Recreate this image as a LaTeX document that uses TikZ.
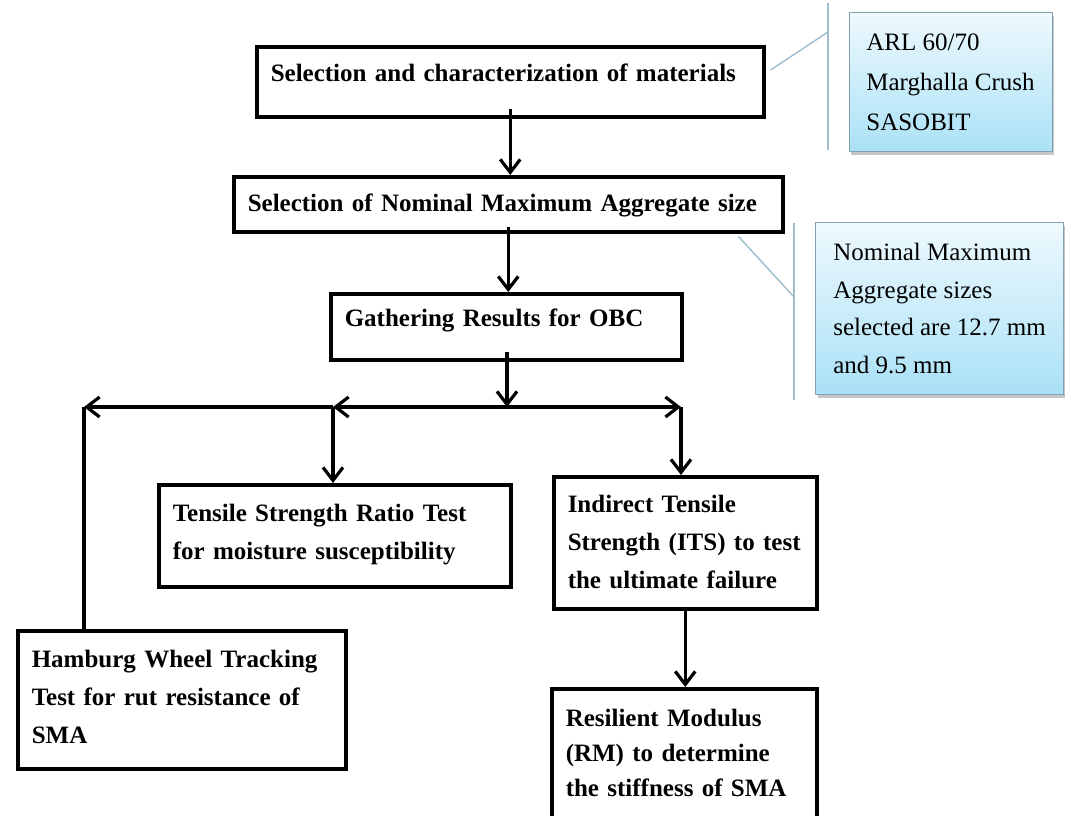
\documentclass[tikz,border=0pt]{standalone}
\usepackage{xcolor}
\usepackage{fontspec}
\setmainfont{Liberation Serif}
\usepackage{tikz}
\usetikzlibrary{positioning, arrows.meta, shadows, calc}

\definecolor{calltop}{RGB}{238,249,254}
\definecolor{callbot}{RGB}{170,225,246}
\definecolor{callrule}{RGB}{130,162,178}
\definecolor{barline}{RGB}{160,188,204}

\begin{document}
\begin{tikzpicture}[
    x=1pt, y=-1pt,
    stepbox/.style={draw, line width=3.5pt, inner ysep=0pt, inner xsep=14pt, align=left, anchor=north west, font=\fontsize{25}{38}\selectfont\bfseries},
    callbox/.style={draw=callrule, line width=1pt, top color=calltop, bottom color=callbot, align=left, drop shadow={shadow xshift=2pt, shadow yshift=-3pt, opacity=0.45}},
    arr/.style={line width=3.2pt, -{Straight Barb[length=13pt, width=20pt]}},
    link/.style={line width=3.2pt},
    bar/.style={draw=barline, line width=1.4pt}
]
\useasboundingbox (0,0) rectangle (1065,815);

% --- main steps ---
\node[stepbox, text width=479pt, text height=35pt, text depth=35pt] (sel) at (255,45) {Selection and characterization of materials};
\node[stepbox, text width=521pt, text height=35pt, text depth=20pt] (nmas) at (232,175) {Selection of Nominal Maximum Aggregate size};
\node[stepbox, text width=323pt, text height=33pt, text depth=33pt] (obc) at (329,292) {Gathering Results for OBC};

% --- tests ---
\node[stepbox, text width=324pt, text height=37pt, text depth=65pt] (tsr) at (157,483) {Tensile Strength Ratio Test\\for moisture susceptibility};
\node[stepbox, text width=235pt, text height=36pt, text depth=96pt] (its) at (552,475) {Indirect Tensile\\Strength (ITS) to test\\the ultimate failure};
\node[stepbox, text width=300pt, text height=37pt, text depth=101pt] (hwt) at (16,629) {Hamburg Wheel Tracking\\Test for rut resistance of\\SMA};
\node[stepbox, text width=237pt, text height=38pt, text depth=100pt, font=\fontsize{25}{35}\selectfont\bfseries] (rm) at (550,687) {Resilient Modulus\\(RM) to determine\\the stiffness of SMA};

% --- callouts ---
\node[callbox, minimum width=203pt, minimum height=139pt, font=\fontsize{25}{40}\selectfont] (matlist) at (950.5,82) {ARL 60/70\\Marghalla Crush\\SASOBIT};
\node[callbox, minimum width=248pt, minimum height=172pt, font=\fontsize{25}{37.5}\selectfont] (sizelist) at (939.5,308.5) {Nominal Maximum\\Aggregate sizes\\selected are 12.7 mm\\and 9.5 mm};

\coordinate (matbar-top) at (828,3);
\coordinate (matbar-bot) at (828,150);
\coordinate (matbar-hook) at (828,32);
\coordinate (sizebar-top) at (794,223);
\coordinate (sizebar-bot) at (794,400);
\coordinate (sizebar-hook) at (794,297);
\draw[bar] (matbar-top) -- (matbar-bot);
\draw[bar] ($(sel.north east)+(5,25)$) -- (matbar-hook);
\draw[bar] (sizebar-top) -- (sizebar-bot);
\draw[bar] ($(nmas.south east)+(-46,3)$) -- (sizebar-hook);

% --- flow ---
\coordinate (jmid) at (507,407);
\coordinate (jleft) at (84,407);
\coordinate (jtsr) at (333,407);
\coordinate (jits) at (681,407);

\draw[arr] ($(sel.south)+(0,-10)$) -- (sel.south |- nmas.north);
\draw[arr] ($(nmas.south)+(0,-7)$) -- (nmas.south |- obc.north);
\draw[arr] ($(jmid |- obc.south)+(0,-10)$) -- (jmid);
\draw[arr] (jmid) -- (jtsr);
\draw[arr] (jtsr) -- (jleft);
\draw[arr] (jmid) -- (jits);
\draw[arr] (jtsr) -- (jtsr |- tsr.north);
\draw[arr] (jits) -- (jits |- its.north);
\draw[link] (jleft) -- (jleft |- hwt.north);
\draw[arr] (its.south) -- (its.south |- rm.north);

\end{tikzpicture}
\end{document}
